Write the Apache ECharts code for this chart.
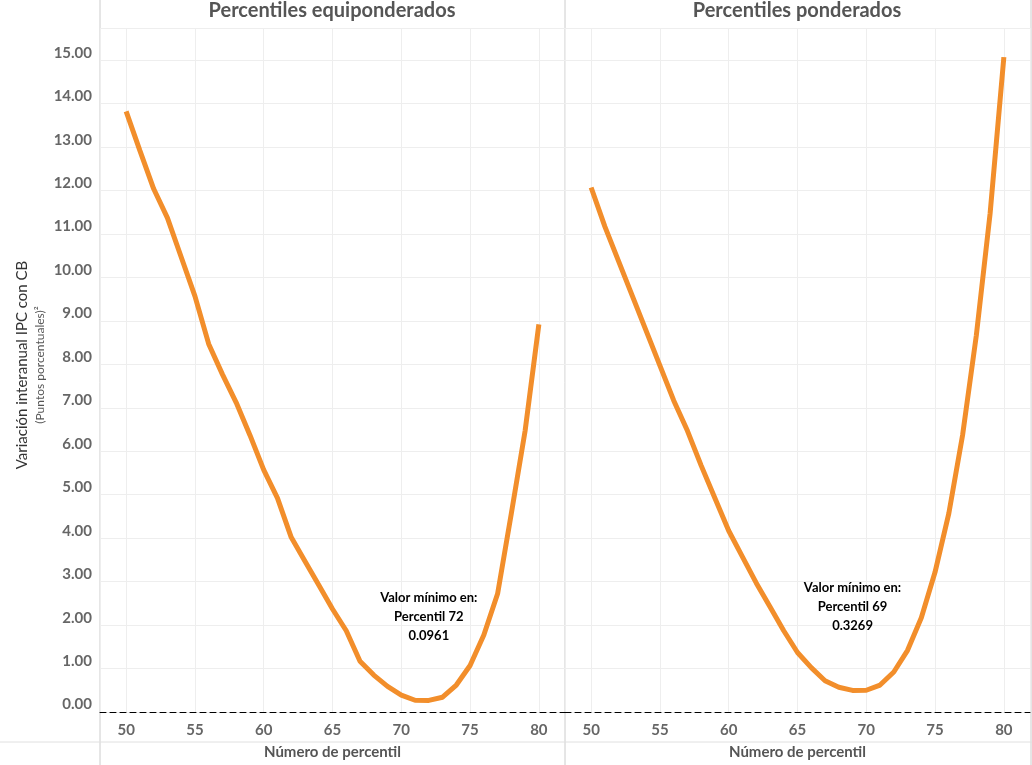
<!DOCTYPE html>
<html><head><meta charset="utf-8">
<script src="https://cdn.jsdelivr.net/npm/echarts@6/dist/echarts.min.js"></script>
<style>html,body{margin:0;padding:0;background:#fff}#c{width:1032px;height:765px}</style>
</head><body><div id="c"></div>
<script>
const percentiles = [50,51,52,53,54,55,56,57,58,59,60,61,62,63,64,65,66,67,68,69,70,71,72,73,74,75,76,77,78,79,80];
const equiValues = [13.65,12.75,11.87,11.2,10.3,9.4,8.3,7.6,6.95,6.2,5.4,4.75,3.85,3.3,2.75,2.2,1.7,1.0,0.68,0.42,0.22,0.1,0.0961,0.17,0.45,0.9,1.6,2.55,4.4,6.3,8.75];
const pondValues = [11.9,11.0,10.2,9.4,8.6,7.8,7.0,6.3,5.5,4.75,4.0,3.4,2.8,2.25,1.7,1.2,0.85,0.55,0.4,0.3269,0.33,0.45,0.75,1.25,2.0,3.05,4.4,6.2,8.5,11.3,14.9];
const titles = ['Percentiles equiponderados','Percentiles ponderados'];
const xTicks = [50,55,60,65,70,75,80];
const minLabels = [
  {x:72, y:0.0961, text:'Valor mínimo en:\nPercentil 72\n0.0961'},
  {x:69, y:0.3269, text:'Valor mínimo en:\nPercentil 69\n0.3269'}
];
const grey = '#555';
function xAxis(i){return {type:'value',gridIndex:i,min:48.1,max:81.9,
  name:'Número de percentil',nameLocation:'middle',nameGap:33,
  nameTextStyle:{fontFamily:'Lato',fontWeight:'bold',fontSize:15,color:grey},
  axisLine:{show:true,onZero:false,lineStyle:{color:'#000',type:[6,4],width:1}},
  axisTick:{show:false},
  axisLabel:{customValues:xTicks,fontFamily:'Lato',fontWeight:'bold',fontSize:15,color:'#666',margin:11},
  splitLine:{show:true,lineStyle:{color:'#eee'}}};}
function yAxis(i){return {type:'value',gridIndex:i,min:-0.17,max:15.57,
  axisLine:{show:false},axisTick:{show:false},
  axisLabel:{show:i===0,customValues:[0,1,2,3,4,5,6,7,8,9,10,11,12,13,14,15],formatter:v=>v.toFixed(2),fontFamily:'Lato',fontWeight:'bold',fontSize:15,color:'#666',margin:8},
  splitLine:{show:true,lineStyle:{color:'#eee'}},interval:1};}
function series(i,vals){return {type:'line',xAxisIndex:i,yAxisIndex:i,data:percentiles.map((p,k)=>[p,vals[k]]),
  showSymbol:false,lineStyle:{color:'#f28e2b',width:5},itemStyle:{color:'#f28e2b'},smooth:false,
  markPoint:{symbol:'circle',symbolSize:0,data:[{coord:[minLabels[i].x,minLabels[i].y+1.15],value:0}],
    label:{show:true,position:'top',formatter:minLabels[i].text,fontFamily:'Lato',fontWeight:'bold',fontSize:13,color:'#000',lineHeight:19,align:'center'}}};}
const chart = echarts.init(document.getElementById('c'));
chart.setOption({
  animation:false,
  grid:[{left:100,width:465,top:28,bottom:52},{left:565,right:2,top:28,bottom:52}],
  xAxis:[xAxis(0),xAxis(1)],
  yAxis:[yAxis(0),yAxis(1)],
  series:[series(0,equiValues),series(1,pondValues)],
  graphic:[
    {type:'text',style:{text:titles[0],font:'bold 20px Lato',fill:grey,textAlign:'center',x:332,y:1}},
    {type:'text',style:{text:titles[1],font:'bold 20px Lato',fill:grey,textAlign:'center',x:797,y:1}},
    {type:'line',shape:{x1:100,y1:0,x2:100,y2:765},style:{stroke:'#ccc',lineWidth:1}},
    {type:'line',shape:{x1:565,y1:0,x2:565,y2:765},style:{stroke:'#ccc',lineWidth:1}},
    {type:'line',shape:{x1:1031,y1:0,x2:1031,y2:765},style:{stroke:'#ccc',lineWidth:1}},
    {type:'line',shape:{x1:0,y1:742,x2:1032,y2:742},style:{stroke:'#e0e0e0',lineWidth:1}},
    {type:'text',x:22,y:365,rotation:Math.PI/2,style:{text:'Variación interanual IPC con CB',font:'15px Lato',fill:'#333',textAlign:'center',textVerticalAlign:'middle'}},
    {type:'text',x:40,y:365,rotation:Math.PI/2,style:{text:'(Puntos porcentuales)²',font:'12px Lato',fill:'#555',textAlign:'center',textVerticalAlign:'middle'}}
  ]
});
</script></body></html>
